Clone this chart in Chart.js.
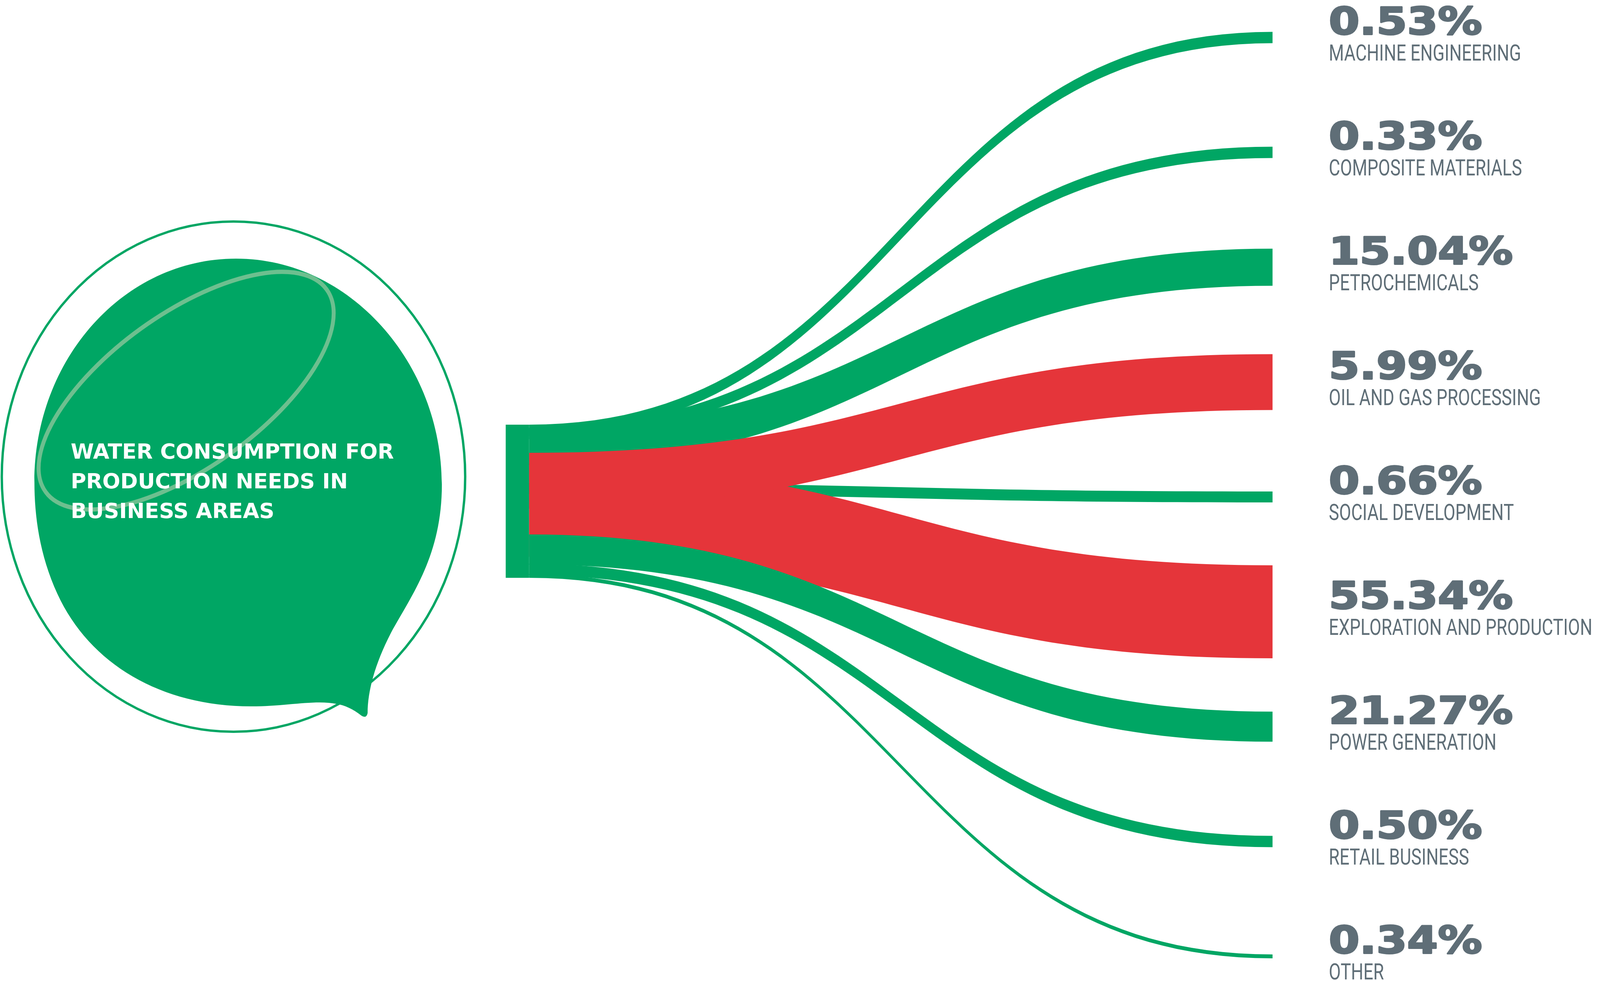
<!DOCTYPE html>
<html>
<head>
<meta charset="utf-8">
<script src="https://cdn.jsdelivr.net/npm/chart.js@4.4.1/dist/chart.umd.min.js"></script>
<style>
  html, body { margin: 0; padding: 0; background: #fff; overflow: hidden; }
  #wrap { position: relative; width: 100vw; height: 100vh; }
</style>
</head>
<body>
<div id="wrap"><canvas id="chart"></canvas></div>
<script>
// data
const categories = ['MACHINE ENGINEERING', 'COMPOSITE MATERIALS', 'PETROCHEMICALS', 'OIL AND GAS PROCESSING',
  'SOCIAL DEVELOPMENT', 'EXPLORATION AND PRODUCTION', 'POWER GENERATION', 'RETAIL BUSINESS', 'OTHER'];
const shares = [0.53, 0.33, 15.04, 5.99, 0.66, 55.34, 21.27, 0.50, 0.34];
const highlighted = [false, false, false, true, false, true, false, false, false];
const sourceTitle = ['WATER CONSUMPTION FOR', 'PRODUCTION NEEDS IN', 'BUSINESS AREAS'];

// colours
const green = '#00a664';
const red = '#e5353a';
const grey = '#5f6e77';
const loopColor = '#6dbf8f';

// layout, in design units (the artboard is 4461 x 2511)
const DESIGN_W = 4461, DESIGN_H = 2511;
const ROW_TOP = 96, ROW_STEP = 294;
const NODE_X0 = 1410, NODE_X1 = 1475, NODE_TOP = 1087, NODE_BOTTOM = 1479;
const TARGET_X = 3548;
const LABEL_X = 3705;
// ribbon thickness and where each ribbon leaves the source node (decorative, not to scale)
const ribbonWidth = [29, 29, 95, 143, 28, 238, 77, 29, 10];
const ribbonSourceTop = [1087, 1095, 1095, 1159, 1236, 1187, 1368, 1443, 1469];
const drawOrder = [0, 1, 2, 4, 5, 3, 8, 7, 6];

const wrap = document.getElementById('wrap');
const kx = wrap.clientWidth / DESIGN_W;
const ky = wrap.clientHeight / DESIGN_H;
const lastRow = ROW_TOP + (categories.length - 1) * ROW_STEP;

// text squeezed/stretched horizontally to match the artwork's type
function stretchText(ctx, text, x, y, size, font, sx, weight) {
  ctx.save();
  ctx.translate(x, y);
  ctx.scale(sx * kx / ky, 1);
  ctx.font = font.replace('#', (size * ky) + 'px');
  ctx.fillText(text, 0, 0);
  if (weight) {
    ctx.lineWidth = weight * ky;
    ctx.lineJoin = 'round';
    ctx.strokeStyle = ctx.fillStyle;
    ctx.strokeText(text, 0, 0);
  }
  ctx.restore();
}

const sankeyPlugin = {
  id: 'sankey',
  afterDatasetsDraw(chart) {
    const ctx = chart.ctx;
    const xs = chart.scales.x, ys = chart.scales.yd;
    const X = v => xs.getPixelForValue(v);
    const Y = v => ys.getPixelForValue(v);
    const lenX = v => Math.abs(X(v) - X(0));
    const lenY = v => Math.abs(Y(v) - Y(0));

    ctx.save();

    // outline ring
    ctx.beginPath();
    ctx.ellipse(X(651), Y(1220), lenX(646), lenY(653), 0, 0, Math.PI * 2);
    ctx.strokeStyle = green;
    ctx.lineWidth = lenY(6);
    ctx.stroke();

    // speech-bubble blob
    ctx.beginPath();
    ctx.moveTo(X(96), Y(1235));
    ctx.bezierCurveTo(X(96), Y(919), X(345), Y(662), X(658), Y(662));
    ctx.bezierCurveTo(X(976), Y(662), X(1232), Y(930), X(1232), Y(1240));
    ctx.bezierCurveTo(X(1232), Y(1420), X(1150), Y(1520), X(1090), Y(1620));
    ctx.bezierCurveTo(X(1045), Y(1700), X(1025), Y(1770), X(1025), Y(1825));
    ctx.quadraticCurveTo(X(1022), Y(1840), X(1008), Y(1832));
    ctx.bezierCurveTo(X(985), Y(1815), X(960), Y(1805), X(940), Y(1802));
    ctx.bezierCurveTo(X(880), Y(1790), X(800), Y(1808), X(700), Y(1808));
    ctx.bezierCurveTo(X(450), Y(1808), X(250), Y(1700), X(160), Y(1520));
    ctx.bezierCurveTo(X(110), Y(1420), X(96), Y(1320), X(96), Y(1235));
    ctx.closePath();
    ctx.fillStyle = green;
    ctx.fill();

    // light loop inside the blob
    ctx.save();
    ctx.clip();
    ctx.translate(X(519), Y(1000));
    ctx.scale(kx, ky);
    ctx.rotate(-32.4 * Math.PI / 180);
    ctx.beginPath();
    ctx.ellipse(0, 0, 470, 202, 0, 0, Math.PI * 2);
    ctx.strokeStyle = loopColor;
    ctx.lineWidth = 11;
    ctx.stroke();
    ctx.restore();

    // title
    ctx.fillStyle = '#ffffff';
    ctx.textBaseline = 'alphabetic';
    sourceTitle.forEach((line, i) => {
      stretchText(ctx, line, X(197), Y(1174 + i * 76), 54, 'bold # "DejaVu Sans"', 1.09);
    });

    // ribbons
    const meta = chart.getDatasetMeta(0);
    const x0 = X(NODE_X1);
    drawOrder.forEach(i => {
      const end = meta.data[i];
      const x1 = end.x;
      const t = lenY(ribbonWidth[i]);
      const top0 = Y(ribbonSourceTop[i]), bot0 = top0 + t;
      const top1 = end.y - t / 2, bot1 = end.y + t / 2;
      const xm = (x0 + x1) / 2;
      ctx.beginPath();
      ctx.moveTo(x0, top0);
      ctx.bezierCurveTo(xm, top0, xm, top1, x1, top1);
      ctx.lineTo(x1, bot1);
      ctx.bezierCurveTo(xm, bot1, xm, bot0, x0, bot0);
      ctx.closePath();
      ctx.fillStyle = highlighted[i] ? red : green;
      ctx.fill();
    });

    // source node
    ctx.fillStyle = green;
    ctx.fillRect(X(NODE_X0), Y(NODE_TOP), X(NODE_X1) - X(NODE_X0), Y(NODE_BOTTOM) - Y(NODE_TOP));

    // labels
    ctx.fillStyle = grey;
    categories.forEach((name, i) => {
      const y = meta.data[i].y - lenY(8);
      stretchText(ctx, shares[i].toFixed(2) + '%', X(LABEL_X), y, 97, 'bold # "DejaVu Sans"', 1.27, 4);
      stretchText(ctx, name, X(LABEL_X), y + lenY(67), 57.7, '# Roboto', 0.84);
    });

    ctx.restore();
  }
};

new Chart(document.getElementById('chart'), {
  type: 'scatter',
  data: {
    labels: categories,
    datasets: [{
      data: categories.map(c => ({ x: TARGET_X, y: c })),
      yAxisID: 'y',
      pointRadius: 0,
      pointHoverRadius: 0
    }]
  },
  options: {
    responsive: true,
    maintainAspectRatio: false,
    animation: false,
    events: [],
    layout: {
      autoPadding: false,
      padding: { top: ROW_TOP * ky, bottom: (DESIGN_H - lastRow) * ky, left: 0, right: 0 }
    },
    plugins: {
      legend: { display: false },
      tooltip: { enabled: false }
    },
    scales: {
      x: { type: 'linear', min: 0, max: DESIGN_W, display: false },
      y: { type: 'category', labels: categories, offset: false, display: false },
      yd: { type: 'linear', min: ROW_TOP, max: lastRow, reverse: true, display: false }
    }
  },
  plugins: [sankeyPlugin]
});
</script>
</body>
</html>
